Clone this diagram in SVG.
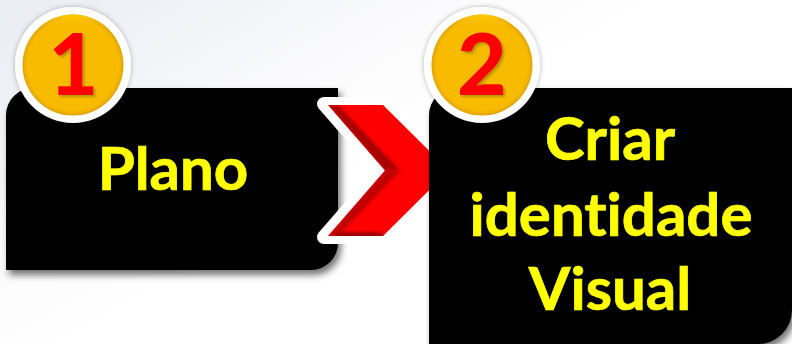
<svg xmlns="http://www.w3.org/2000/svg" width="792" height="344" viewBox="0 0 792 344">
<style>
.box{fill:#000}
.ring{fill:#fff}
.label{font-family:"Lato","Open Sans",sans-serif;font-weight:700;font-size:60px;fill:#ffff00;stroke:#ffff00;stroke-width:.7;text-anchor:middle;font-variant-ligatures:none}
.num{font-family:"Lato","Open Sans",sans-serif;font-weight:900;font-size:86px;fill:#ff0000;text-anchor:middle}
</style>
<defs>
<linearGradient id="bg" x1="0" y1="0" x2="1" y2="0.75">
<stop offset="0" stop-color="#eaecf3"/><stop offset="0.4" stop-color="#fcfcfd"/><stop offset="0.55" stop-color="#fff"/>
</linearGradient>
<radialGradient id="gold" cx="0.5" cy="0.5" r="0.5">
<stop offset="0" stop-color="#f9bb00"/><stop offset="0.9" stop-color="#f9bb00"/><stop offset="0.96" stop-color="#eeb000"/><stop offset="1" stop-color="#dca000"/>
</radialGradient>
<linearGradient id="goldTop" x1="0" y1="0" x2="0" y2="1">
<stop offset="0" stop-color="#ffcc00"/><stop offset="0.12" stop-color="#fbbc00" stop-opacity="0"/>
</linearGradient>
<clipPath id="chev"><path d="M328 105H383L449 170.500L383 236H328L385 170.500Z"/></clipPath>
<filter id="soft" x="-20%" y="-20%" width="140%" height="140%"><feGaussianBlur stdDeviation="1.6"/></filter>
<filter id="sh" x="-10%" y="-10%" width="125%" height="125%"><feGaussianBlur in="SourceAlpha" stdDeviation="3.5"/><feOffset dx="3" dy="5"/><feColorMatrix values="0 0 0 0 0 0 0 0 0 0 0 0 0 0 0 0 0 0 .55 0"/><feMerge><feMergeNode/><feMergeNode in="SourceGraphic"/></feMerge></filter>
<filter id="ringSh" x="-15%" y="-15%" width="130%" height="130%"><feGaussianBlur in="SourceAlpha" stdDeviation="2.5"/><feColorMatrix values="0 0 0 0 0 0 0 0 0 0 0 0 0 0 0 0 0 0 .3 0"/><feMerge><feMergeNode/><feMergeNode in="SourceGraphic"/></feMerge></filter>
<filter id="numSh" x="-20%" y="-20%" width="150%" height="150%"><feGaussianBlur in="SourceAlpha" stdDeviation="1.3"/><feOffset dx="2" dy="2"/><feColorMatrix values="0 0 0 0 .35 0 0 0 0 .25 0 0 0 0 0 0 0 0 .75 0"/><feMerge><feMergeNode/><feMergeNode in="SourceGraphic"/></feMerge></filter>
</defs>
<rect width="792" height="344" fill="url(#bg)"/>
<g id="node-1">
<path class="box" filter="url(#sh)" d="M33 88H338V243A27 27 0 0 1 311 270H6V115A27 27 0 0 1 33 88Z"/>
<text class="label" x="173" y="190">Plano</text>
</g>
<g id="connectors">
<path d="M324 104H386L452 170.500L386 237H324L382 170.500Z" fill="#fff" stroke="#fff" stroke-width="14" stroke-linejoin="round"/>
<path d="M328 105H383L449 170.500L383 236H328L385 170.500Z" fill="#ff0000"/>
<g clip-path="url(#chev)">
<path d="M328 105L385 170.500L400 170.500L338 105Z" fill="#a80000" filter="url(#soft)"/>
<path d="M328 236L385 170.500L400 170.500L338 236Z" fill="#c00000" filter="url(#soft)"/>
<path d="M328 240H390L380 232H340Z" fill="#a00000" filter="url(#soft)"/>
</g>
</g>
<g id="node-2">
<path class="box" filter="url(#sh)" d="M456 88H792V310A34 34 0 0 1 758 344H429V115A27 27 0 0 1 456 88Z"/>
<text class="label" x="610" y="160">Criar</text>
<text class="label" x="611" y="236">identidade</text>
<text class="label" x="610" y="310">Visual</text>
</g>
<g id="badge-1">
<circle class="ring" cx="73" cy="65" r="58" filter="url(#ringSh)"/>
<circle cx="73" cy="65" r="50.500" fill="url(#gold)"/>
<circle cx="73" cy="65" r="50.500" fill="url(#goldTop)"/>
<text class="num" x="73.500" y="95" filter="url(#numSh)">1</text>
</g>
<g id="badge-2">
<circle class="ring" cx="482" cy="65" r="58" filter="url(#ringSh)"/>
<circle cx="482" cy="65" r="50.500" fill="url(#gold)"/>
<circle cx="482" cy="65" r="50.500" fill="url(#goldTop)"/>
<text class="num" x="482" y="95" filter="url(#numSh)">2</text>
</g>
</svg>
